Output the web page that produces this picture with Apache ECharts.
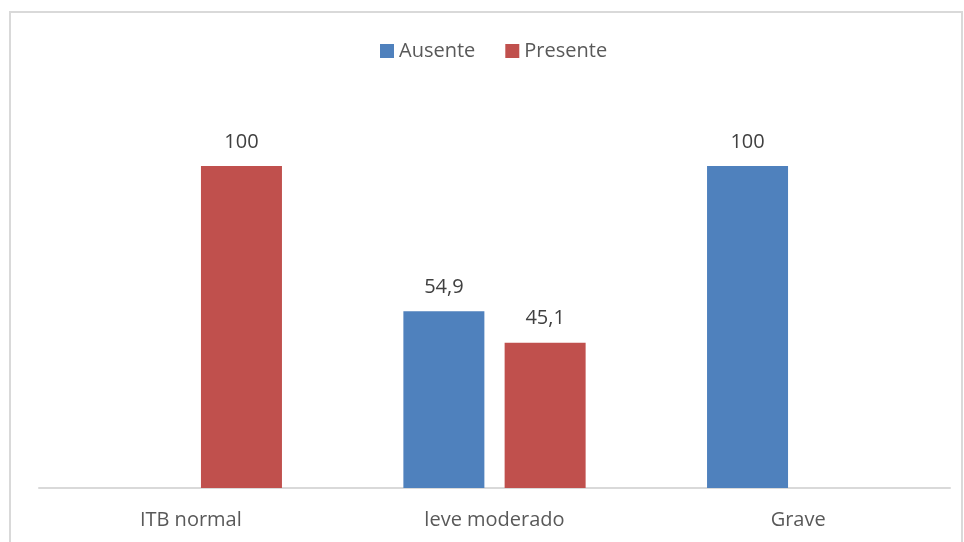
<!DOCTYPE html>
<html>
<head>
<meta charset="utf-8">
<script src="https://cdn.jsdelivr.net/npm/echarts@6/dist/echarts.min.js"></script>
<style>
  html, body { margin: 0; padding: 0; background: #fff; }
  #main { width: 964px; height: 542px; }
</style>
</head>
<body>
<div id="main"></div>
<script>
const categories = ['ITB normal', 'leve moderado', 'Grave']
const ausente = [null, 54.9, 100]
const presente = [100, 45.1, null]

const chart = echarts.init(document.getElementById('main'))

function fmt(p) {
  return p.value == null ? '' : String(p.value).replace('.', ',')
}

const labelStyle = {
  show: true,
  position: 'top',
  distance: 14,
  color: '#404040',
  fontSize: 20,
  fontFamily: 'Open Sans',
  formatter: fmt
}

const option = {
  animation: false,
  graphic: [{
    type: 'rect',
    shape: { x: 10, y: 12, width: 952, height: 540 },
    style: { fill: 'none', stroke: '#d9d9d9', lineWidth: 2 }
  }],
  legend: {
    top: 36,
    left: 375,
    itemWidth: 14,
    itemHeight: 14,
    itemGap: 30,
    icon: 'rect',
    textStyle: { color: '#595959', fontSize: 20, fontFamily: 'Open Sans' },
    data: ['Ausente', 'Presente']
  },
  grid: { left: 39, right: 14, top: 166, bottom: 54 },
  xAxis: {
    type: 'category',
    data: categories,
    axisLine: { lineStyle: { color: '#d9d9d9', width: 2 } },
    axisTick: { show: false },
    axisLabel: { color: '#595959', fontSize: 20, fontFamily: 'Open Sans', margin: 22 }
  },
  yAxis: {
    type: 'value',
    min: 0,
    max: 100,
    show: false
  },
  series: [
    {
      name: 'Ausente', type: 'bar', data: ausente,
      barWidth: 81, barGap: '25%',
      itemStyle: { color: '#4f81bd' },
      label: labelStyle
    },
    {
      name: 'Presente', type: 'bar', data: presente,
      barWidth: 81,
      itemStyle: { color: '#c0504d' },
      label: labelStyle
    }
  ]
}

chart.setOption(option)
</script>
</body>
</html>
